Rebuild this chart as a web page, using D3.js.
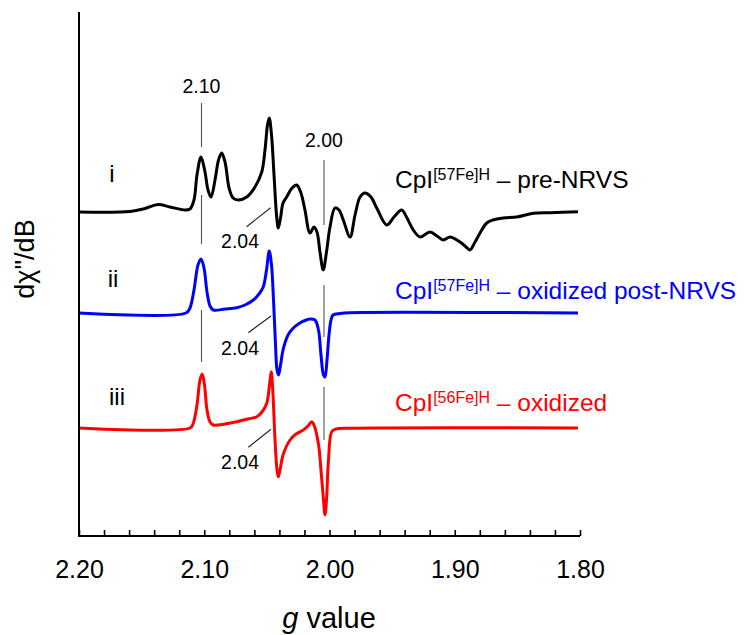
<!DOCTYPE html>
<html><head><meta charset="utf-8">
<script src="https://cdn.jsdelivr.net/npm/d3@7"></script>
<style>
html,body{margin:0;padding:0;background:#fff;}
svg{display:block;font-family:"Liberation Sans",Arial,sans-serif;}
</style></head>
<body>
<svg id="chart" width="745" height="635"></svg>
<script>
// ---- data (g value vs. derivative intensity, arbitrary units) ----
const xTickValues = [2.20, 2.10, 2.00, 1.90, 1.80];
const xTickLabels = ["2.20", "2.10", "2.00", "1.90", "1.80"];

const gI = [2.2000,2.1593,2.1473,2.1369,2.1273,2.1154,2.1114,2.1082,2.1058,2.1026,2.0994,2.0970,2.0946,2.0914,2.0886,2.0861,2.0834,2.0802,2.0770,2.0728,2.0661,2.0595,2.0541,2.0515,2.0495,2.0481,2.0463,2.0443,2.0423,2.0409,2.0391,2.0371,2.0342,2.0299,2.0262,2.0228,2.0196,2.0156,2.0124,2.0100,2.0076,2.0050,2.0024,1.9996,1.9956,1.9924,1.9890,1.9836,1.9796,1.9756,1.9717,1.9669,1.9623,1.9543,1.9485,1.9424,1.9381,1.9331,1.9277,1.9198,1.9142,1.9091,1.9038,1.8958,1.8910,1.8878,1.8838,1.8798,1.8745,1.8695,1.8612,1.8505,1.8373,1.8240,1.8016];
const valI = [0,0.5,3.5,7.5,5,2,3,12,37,55,40,22,15,32,52,59,50,24,14,12,15,25,40,62,87,94,77,37,-3,-16,-6,9,15,24,27,19,2,-21,-15,-20,-40,-58,-40,-15,4,2,-8,-25,-3,15,19,15,4,-13,-5,2,-6,-18,-25,-20,-24,-28,-25,-30,-35,-38,-30,-21,-11,-8,-6,-5,-1.3,-0.7,0.3];

const gII = [2.2000,2.1146,2.1114,2.1082,2.1050,2.1026,2.1002,2.0978,2.0954,2.0928,2.0834,2.0741,2.0675,2.0608,2.0563,2.0529,2.0503,2.0481,2.0463,2.0447,2.0431,2.0419,2.0407,2.0391,2.0371,2.0331,2.0289,2.0236,2.0196,2.0156,2.0116,2.0088,2.0068,2.0048,2.0036,2.0020,2.0004,1.9988,1.9972,1.9916,1.9836,1.8016];
const valII = [0,0,5,23,48,54,45,21,7,3,4,5.3,8,13,19,26,43,62,48,13,-32,-57,-62,-52,-37,-22,-15,-10,-7.5,-6,-7,-17,-42,-62,-64,-47,-22,-7,-2,-0.5,0.3,0];

const gIII = [2.2000,2.1114,2.1090,2.1058,2.1034,2.1016,2.0998,2.0978,2.0954,2.0928,2.0834,2.0741,2.0651,2.0581,2.0539,2.0501,2.0479,2.0465,2.0451,2.0435,2.0419,2.0409,2.0395,2.0371,2.0315,2.0267,2.0209,2.0172,2.0142,2.0124,2.0089,2.0068,2.0048,2.0036,2.0024,2.0008,1.9982,1.9948,1.9836,1.8016];
const valIII = [0,0,4,23,48,54,43,18,6,3,4,6.3,9,11.3,16,24.7,43,56.3,33,-12,-42,-48.7,-42,-27,-12,-6,-2,2,6.3,3,-15.3,-42,-72,-87,-72,-32,-3.7,-1,-0.3,0];

const seriesOffsets = [324, 223, 108];           // vertical stacking offsets (a.u.)
const seriesRoman = ["i", "ii", "iii"];
const seriesNames = ["CpI", "CpI", "CpI"];
const seriesSup = ["[57Fe]H", "[57Fe]H", "[56Fe]H"];
const seriesSuffix = [" \u2013 pre-NRVS", " \u2013 oxidized post-NRVS", " \u2013 oxidized"];

// reference markers
const markG = [2.1022, 2.0044];
const markLabels = ["2.10", "2.00"];
const markLabelY = [443, 389];
const markSegs210 = [[433, 389], [341, 292], [226, 174]];
const markSegs200 = [[376, 311], [251, 199], [149, 96]];
const leader204 = [[2.0661, 309.3, 2.0470, 328.3], [2.0648, 203.3, 2.0467, 220], [2.0648, 88.7, 2.0467, 106.7]];
const label204G = 2.0714;
const label204Y = [288, 181, 67];

// ---- drawing ----
const svg = d3.select("#chart");
const colors = ["#000000", "#0000ff", "#ff0000"];
const x = d3.scaleLinear().domain([2.20, 1.80]).range([79, 580]);
const y = d3.scaleLinear().domain([0, 524]).range([536, 12]);

const series = [[gI, valI], [gII, valII], [gIII, valIII]];

// marker lines (behind)
const gm = svg.append("g").attr("stroke", "#555").attr("stroke-width", 1.1);
markSegs210.forEach(s => gm.append("line").attr("x1", x(markG[0])).attr("x2", x(markG[0])).attr("y1", y(s[0])).attr("y2", y(s[1])));
markSegs200.forEach(s => gm.append("line").attr("x1", x(markG[1])).attr("x2", x(markG[1])).attr("y1", y(s[0])).attr("y2", y(s[1])));
leader204.forEach(s => gm.append("line").attr("x1", x(s[0])).attr("y1", y(s[1])).attr("x2", x(s[2])).attr("y2", y(s[3])).attr("stroke", "#222"));

markLabels.forEach((t, i) => svg.append("text").attr("x", x(markG[i])).attr("y", y(markLabelY[i]))
  .attr("text-anchor", "middle").attr("font-size", 19.5).text(t));
label204Y.forEach(v => svg.append("text").attr("x", x(label204G)).attr("y", y(v))
  .attr("text-anchor", "middle").attr("font-size", 19.5).text("2.04"));

// traces
const line = d3.line().curve(d3.curveCatmullRom.alpha(0.5));
series.forEach((s, i) => {
  const pts = s[0].map((g, k) => [x(g), y(s[1][k] + seriesOffsets[i])]);
  svg.append("path").attr("d", line(pts)).attr("fill", "none")
    .attr("stroke", colors[i]).attr("stroke-width", 3).attr("stroke-linejoin", "round");
});

// roman labels
const romanPos = [[112, 181.7], [113, 286.7], [117, 405]];
seriesRoman.forEach((t, i) => svg.append("text").attr("x", romanPos[i][0]).attr("y", romanPos[i][1])
  .attr("text-anchor", "middle").attr("font-size", 24).text(t));

// series labels
const labelBase = [188.3, 299.3, 410.7];
seriesNames.forEach((n, i) => {
  const t = svg.append("text").attr("x", 395).attr("y", labelBase[i]).attr("font-size", 24.5).attr("fill", colors[i]);
  t.append("tspan").text(n);
  t.append("tspan").attr("font-size", 16).attr("dy", -8).text(seriesSup[i]);
  t.append("tspan").attr("dy", 8).text(seriesSuffix[i]);
});

// axes
const minorTicks = d3.range(0, 21).map(k => 2.20 - k * 0.02);
const ax = svg.append("g").attr("transform", "translate(0,536)")
  .call(d3.axisBottom(x).tickValues(minorTicks).tickSize(-6).tickSizeOuter(0).tickFormat(""));
ax.select(".domain").remove();
ax.selectAll(".tick line").attr("stroke", "#000").attr("stroke-width", 1.6);
const axl = svg.append("g").attr("transform", "translate(0,536)")
  .call(d3.axisBottom(x).tickValues(xTickValues).tickSize(0).tickPadding(24)
    .tickFormat((d, i) => xTickLabels[i]));
axl.select(".domain").remove();
axl.selectAll("text").attr("font-size", 25).attr("font-family", "Liberation Sans, Arial, sans-serif").attr("fill", "#000");

svg.append("path").attr("d", `M${x(2.20)},${y(524)}V${y(0)}H${x(1.80)}`)
  .attr("fill", "none").attr("stroke", "#000").attr("stroke-width", 2);

// axis titles
const xt = svg.append("text").attr("x", 329).attr("y", 628).attr("text-anchor", "middle").attr("font-size", 29);
xt.append("tspan").attr("font-style", "italic").text("g");
xt.append("tspan").text(" value");
svg.append("text").attr("transform", "translate(34,259) rotate(-90)").attr("text-anchor", "middle")
  .attr("font-size", 27).text("d\u03C7\"/dB");
</script>
</body></html>
